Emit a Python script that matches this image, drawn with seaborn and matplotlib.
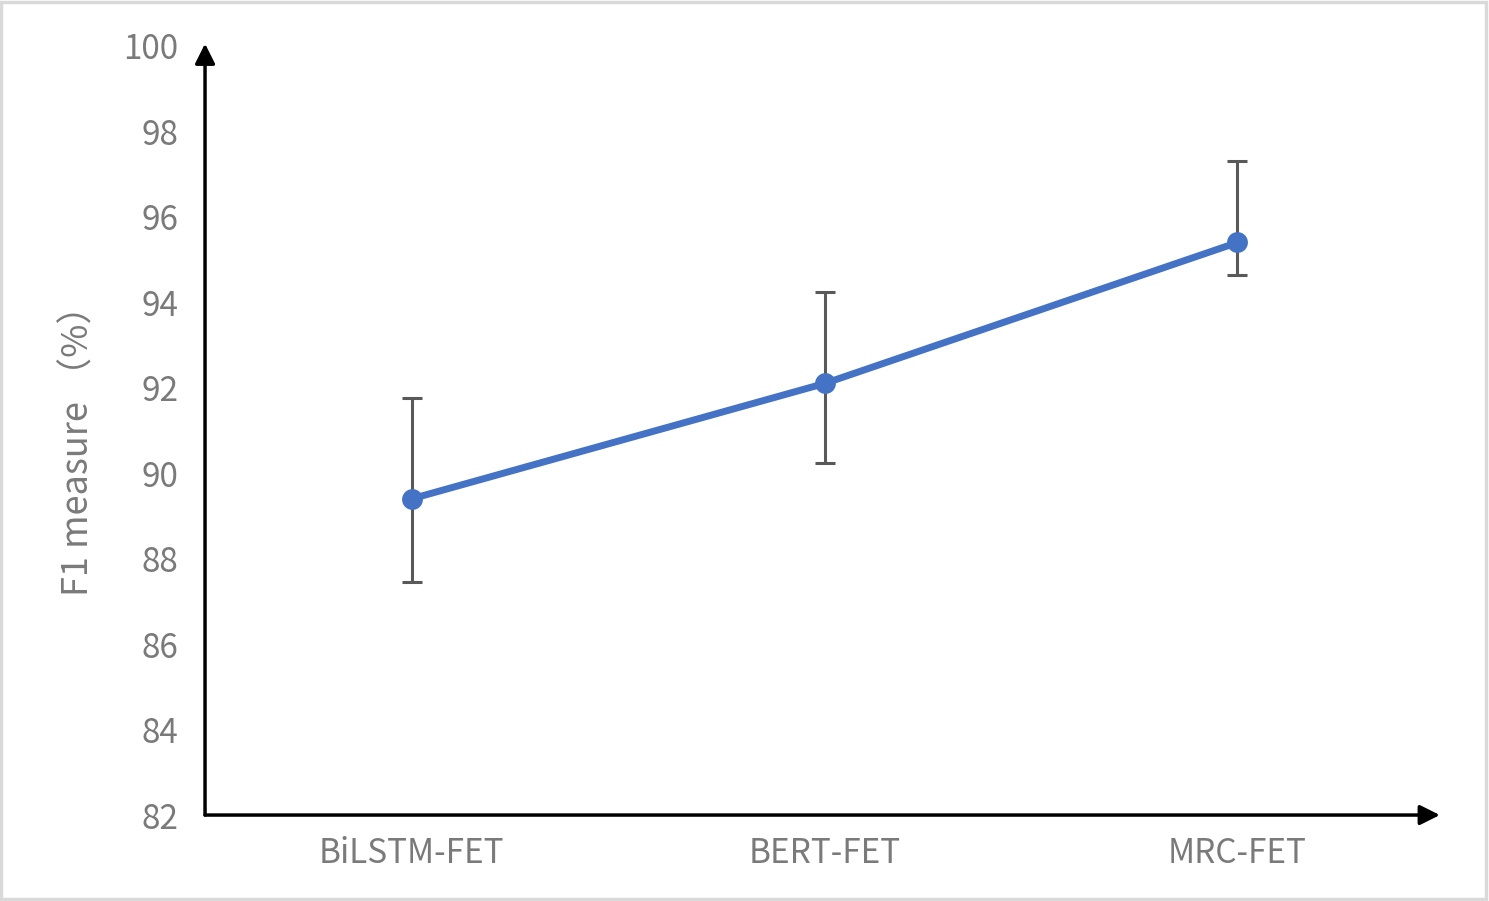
import numpy as np
import pandas as pd
import seaborn as sns
import matplotlib.pyplot as plt
from matplotlib.patches import Rectangle

# data
models = ["BiLSTM-FET", "BERT-FET", "MRC-FET"]
f1 = [89.4, 92.1, 95.4]
err_low = [1.95, 1.85, 0.75]
err_high = [2.35, 2.15, 1.9]
y_ticks = [82, 84, 86, 88, 90, 92, 94, 96, 98, 100]

df = pd.DataFrame({"model": models, "f1": f1})

sns.set_style("white")
plt.rcParams["font.family"] = ["Noto Sans CJK SC", "DejaVu Sans"]
plt.rcParams["font.weight"] = "light"

fig = plt.figure(figsize=(14.89, 9.01), dpi=100)
ax = fig.add_axes([0.1377, 0.0954, 0.967 - 0.1377, 0.949 - 0.0954])

x = np.arange(len(models))
ax.errorbar(x, f1, yerr=[err_low, err_high], fmt="none", ecolor="#595959",
            elinewidth=2.2, capsize=7, capthick=2.2, zorder=2)
sns.lineplot(data=df, x="model", y="f1", ax=ax, color="#4472C4", linewidth=5,
             marker="o", markersize=15, markeredgewidth=0, sort=False, zorder=3)

ax.set_xlim(-0.5, 2.49)
ax.set_ylim(82, 100)
ax.set_yticks(y_ticks)
ax.set_xticks(x)
ax.set_xticklabels(models)
ax.tick_params(axis="both", length=0, labelsize=24, labelcolor="#7a7a7a")
ax.tick_params(axis="y", pad=19)
ax.tick_params(axis="x", pad=15)
ax.set_xlabel("")
ax.set_ylabel("F1 measure （%）", fontsize=26, color="#7a7a7a")
ax.yaxis.set_label_coords(-0.088, 0.485)

for s in ax.spines.values():
    s.set_visible(False)

# axis arrows
ax.annotate("", xy=(1, 0), xytext=(0, 0), xycoords="axes fraction",
            arrowprops=dict(arrowstyle="-|>", color="black", lw=2.5,
                            mutation_scale=30, shrinkA=0, shrinkB=0))
ax.annotate("", xy=(0, 1.003), xytext=(0, 0), xycoords="axes fraction",
            arrowprops=dict(arrowstyle="-|>", color="black", lw=2.5,
                            mutation_scale=30, shrinkA=0, shrinkB=0))

fig.patches.append(Rectangle((0.001, 0.002), 0.997, 0.996, transform=fig.transFigure,
                             fill=False, edgecolor="#d9d9d9", linewidth=2.5))

fig.savefig("out.png", dpi=100)
